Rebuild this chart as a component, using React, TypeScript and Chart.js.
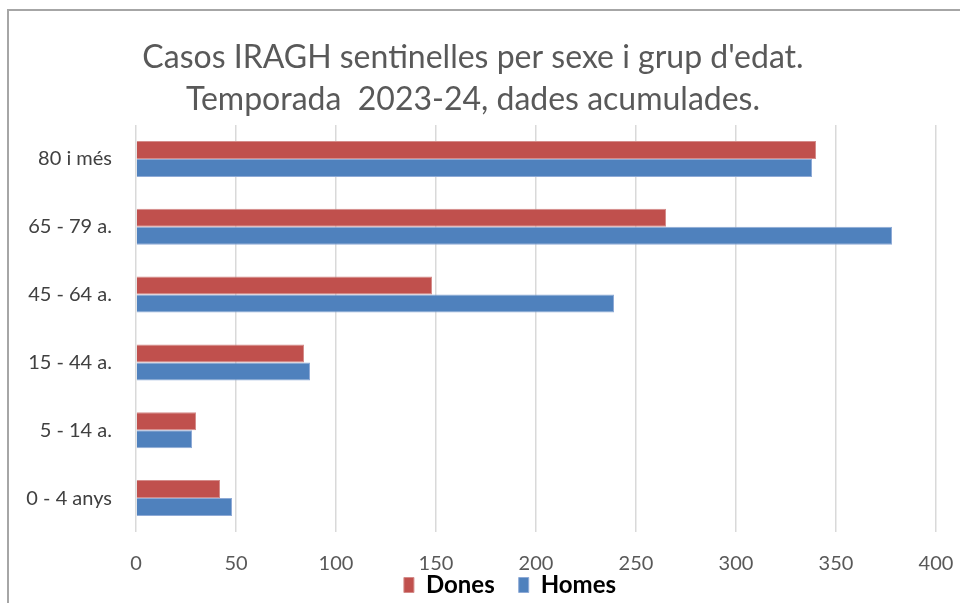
import React, { useEffect, useRef } from "react";
import { Chart, registerables } from "chart.js";

Chart.register(...registerables);

const titleLines = ["Casos IRAGH sentinelles per sexe i grup d'edat.", "Temporada  2023-24, dades acumulades."];
const categories = ["80 i més", "65 - 79 a.", "45 - 64 a.", "15 - 44 a.", "5 - 14 a.", "0 - 4 anys"];
const dones = [340, 265, 148, 84, 30, 42];
const homes = [338, 378, 239, 87, 28, 48];
const xMin = 0;
const xMax = 400;
const xStep = 50;

const FONT = "Lato, 'Open Sans', sans-serif";

export default function App() {
  const ref = useRef<HTMLCanvasElement | null>(null);

  useEffect(() => {
    const canvas = ref.current;
    if (!canvas) return;
    document.body.style.margin = "0";
    document.body.style.overflow = "hidden";

    const placePlugin = {
      id: "placeBoxes",
      afterLayout(chart: any) {
        const L = chart.legend;
        if (L) {
          const w = L.right - L.left;
          const h = 70;
          const cx = 510;
          L.left = cx - w / 2;
          L.right = cx + w / 2;
          const pad = L.options.labels.padding;
          L.top = 585 - pad - 12;
          L.bottom = L.top + h;
          L.width = w;
          L.height = h;
        }
        const T = chart.titleBlock;
        if (T) {
          T.left += 5;
          T.right += 5;
        }
      },
    };

    const chart = new Chart(canvas, {
      type: "bar",
      data: {
        labels: categories,
        datasets: [
          {
            label: "Dones",
            data: dones,
            backgroundColor: "#C0504D",
            borderColor: "#D48C8A",
            borderWidth: 1,
            categoryPercentage: 0.53,
            barPercentage: 1.0,
          },
          {
            label: "Homes",
            data: homes,
            backgroundColor: "#4F81BD",
            borderColor: "#8EAAD6",
            borderWidth: 1,
            categoryPercentage: 0.53,
            barPercentage: 1.0,
          },
        ],
      },
      options: {
        indexAxis: "y",
        animation: false,
        responsive: false,
        maintainAspectRatio: false,
        layout: { padding: { left: 0, right: 24, top: 0, bottom: 0 } },
        plugins: {
          title: {
            display: true,
            text: titleLines,
            color: "#595959",
            font: { family: FONT, size: 32, weight: "normal", lineHeight: 42 / 32 },
            padding: { top: 37, bottom: 4 },
          },
          legend: {
            display: true,
            position: "bottom",
            align: "center",
            maxHeight: 1,
            labels: {
              color: "#000000",
              font: { family: FONT, size: 24, weight: "bold" },
              boxWidth: 10,
              boxHeight: 15,
              padding: 24,
            },
          },
          tooltip: { enabled: false },
        },
        scales: {
          x: {
            type: "linear",
            position: "bottom",
            min: xMin,
            max: xMax,
            ticks: {
              stepSize: xStep,
              color: "#595959",
              font: { family: FONT, size: 20 },
              padding: 20,
            },
            grid: {
              color: "#D9D9D9",
              lineWidth: 1.5,
              drawTicks: false,
            },
            border: { display: false },
            afterFit(scale: any) {
              scale.height = 70;
              scale.paddingLeft = 0;
              scale.paddingRight = 0;
            },
          },
          y: {
            type: "category",
            ticks: {
              color: "#404040",
              font: { family: FONT, size: 20 },
              padding: 24,
            },
            grid: { display: false, drawTicks: false },
            border: { display: false },
            afterFit(scale: any) {
              scale.width = 136;
            },
          },
        },
      },
      plugins: [placePlugin],
    });

    return () => chart.destroy();
  }, []);

  return (
    <div style={{ position: "absolute", left: 0, top: 0, width: 960, height: 603, background: "#fff", overflow: "hidden" }}>
      <div
        style={{
          position: "absolute",
          left: 7,
          top: 9,
          width: 1000,
          height: 700,
          borderLeft: "2px solid #A6A6A6",
          borderTop: "2px solid #A6A6A6",
        }}
      />
      <canvas ref={ref} width={960} height={603} style={{ position: "absolute", left: 0, top: 0, width: 960, height: 603 }} />
    </div>
  );
}
